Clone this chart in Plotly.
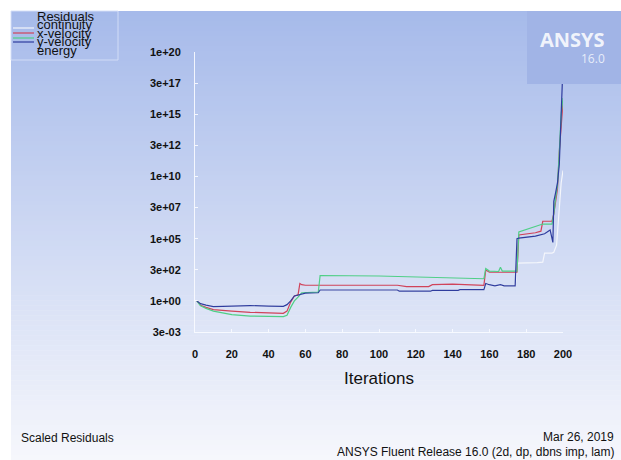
import plotly.graph_objects as go

# ---- residual histories (iteration, scaled residual) ----
continuity_it = [1, 3, 6, 10, 20, 30, 40, 48, 50, 52, 54, 56, 58, 67, 68, 110, 111, 128, 129, 157, 158, 163, 174,
                 175.5, 176, 186, 189, 190, 194, 195, 196.5, 198, 199, 200]
continuity_res = [1.0, 0.6, 0.45, 0.35, 0.38, 0.42, 0.38, 0.36, 0.5, 1.0, 2.5, 3.0, 4.0, 4.5, 7.5, 7.5, 6.0, 6.0,
                  7.0, 8.0, 25, 16, 16, 1.1e3, 1.1e3, 1.2e3, 1.3e3, 7e3, 7e3, 8e3, 3e4, 1e8, 3e9, 3e10]

xvel_it = [1, 3, 6, 10, 20, 30, 48, 50, 52, 54, 56, 57, 58, 60, 110, 115, 127, 129, 140, 145, 157, 158, 160,
           175, 176, 185, 188, 189, 194, 195, 196, 197, 198, 199, 200]
xvel_res = [1.0, 0.45, 0.3, 0.2, 0.15, 0.12, 0.1, 0.15, 0.8, 2.5, 3.0, 25, 20, 18, 18, 14, 14, 20, 22, 20, 18,
            3e2, 2e2, 2e2, 2e5, 3e5, 4e5, 2.5e6, 2.5e6, 1e7, 1e8, 1e9, 1e12, 1e14, 1e16]

yvel_it = [1, 3, 6, 10, 20, 30, 48, 50, 52, 54, 56, 58, 67, 68, 100, 157, 158, 160, 165, 166, 167, 175,
           176, 188, 189, 194, 195, 196, 197, 198, 199, 200]
yvel_res = [1.0, 0.4, 0.25, 0.15, 0.08, 0.06, 0.055, 0.07, 0.3, 1.0, 2.0, 4.5, 5.0, 110, 100, 60, 400, 250,
            230, 500, 250, 250, 3.5e5, 1.3e6, 1.5e6, 1.5e6, 1e7, 2e8, 2e9, 1e12, 1e15, 2e16]

energy_it = [1, 3, 6, 10, 20, 30, 40, 48, 50, 52, 54, 56, 58, 60, 67, 68, 110, 111, 128, 129, 143, 144, 157,
             158, 160, 163, 166, 168, 174, 175, 176, 185, 190, 192, 193, 194.5, 195, 196, 197, 198, 199, 200]
energy_res = [1.0, 0.6, 0.45, 0.35, 0.38, 0.42, 0.38, 0.36, 0.5, 1.0, 2.5, 3.0, 4.0, 4.2, 4.5, 7.5, 7.5, 6.0,
              6.0, 7.0, 7.0, 8.0, 8.0, 25, 20, 16, 20, 16, 16, 1e5, 1.1e5, 1.6e5, 2.5e5, 4e5, 5e5, 5e4, 1e8,
              5e8, 3e9, 1e11, 1e15, 1e19]

series_names = ["continuity", "x-velocity", "y-velocity", "energy"]
series_colors = ["#f4f6fb", "#d0435a", "#4fcf86", "#2e3c9e"]

y_tick_exponents = [-2.5, 0, 2.5, 5, 7.5, 10, 12.5, 15, 17.5, 20]
y_tick_labels = ["3e-03", "1e+00", "3e+02", "1e+05", "3e+07", "1e+10", "3e+12", "1e+15", "3e+17", "1e+20"]
x_tick_values = [0, 20, 40, 60, 80, 100, 120, 140, 160, 180, 200]

# ---- page geometry (pixels) ----
W, H = 621, 460
L, R, T, B = 195, 563, 52, 332
PW, PH = R - L, B - T


def xp(px):
    return (px - L) / PW


def yp(py):
    return (B - py) / PH


fig = go.Figure()

data = [(continuity_it, continuity_res), (xvel_it, xvel_res), (yvel_it, yvel_res), (energy_it, energy_res)]
for (its, res), name, col in zip(data, series_names, series_colors):
    fig.add_trace(go.Scatter(x=its, y=res, mode="lines", name=name,
                             line=dict(color=col, width=1.2), showlegend=False))

shapes = []

# vertical background gradient of the graphics window
top_rgb = (166, 186, 234)
bot_rgb = (246, 247, 252)
y_start, y_end = 11, 460
n = 90
step = (y_end - y_start) / n
for i in range(n):
    t = (i + 0.5) / n
    c = tuple(round(a + (b - a) * t) for a, b in zip(top_rgb, bot_rgb))
    y0 = y_start + i * step
    shapes.append(dict(type="rect", xref="paper", yref="paper", layer="below",
                       x0=xp(11), x1=xp(621), y0=yp(y0 + step + 0.5), y1=yp(y0),
                       line=dict(width=0), fillcolor="rgb(%d,%d,%d)" % c))

# logo panel, drawn over the curves
shapes.append(dict(type="rect", xref="paper", yref="paper", layer="above",
                   x0=xp(527), x1=xp(621), y0=yp(84), y1=yp(11),
                   line=dict(width=0), fillcolor="rgb(161,180,230)"))

# legend frame and line samples
shapes.append(dict(type="rect", xref="paper", yref="paper", layer="above",
                   x0=xp(11), x1=xp(118), y0=yp(60), y1=yp(11),
                   line=dict(width=1, color="rgba(214,224,248,0.9)"), fillcolor="rgba(0,0,0,0)"))
sample_y = [28, 33, 38, 42]
for yy, col in zip(sample_y, series_colors):
    shapes.append(dict(type="line", xref="paper", yref="paper", layer="above",
                       x0=xp(13), x1=xp(34), y0=yp(yy), y1=yp(yy),
                       line=dict(color=col, width=1.2)))

annotations = []
legend_rows = ["Residuals"] + series_names
legend_y = [16, 25, 33, 42, 50]
for txt, yy in zip(legend_rows, legend_y):
    annotations.append(dict(text=txt, xref="paper", yref="paper", x=xp(35), y=yp(yy),
                            xanchor="left", yanchor="middle", showarrow=False,
                            font=dict(family="Liberation Sans, Arial", size=13, color="#111111")))

annotations += [
    dict(text="<b>ANSYS</b>", xref="paper", yref="paper", x=xp(607), y=yp(40), xanchor="right",
         yanchor="middle", showarrow=False,
         font=dict(family="Open Sans, DejaVu Sans", size=20, color="rgba(246,248,253,0.95)")),
    dict(text="16.0", xref="paper", yref="paper", x=xp(607), y=yp(58), xanchor="right",
         yanchor="middle", showarrow=False,
         font=dict(family="Open Sans, DejaVu Sans", size=12, color="rgba(236,241,251,0.95)")),
    dict(text="Iterations", xref="paper", yref="paper", x=xp(379), y=yp(378), xanchor="center",
         yanchor="middle", showarrow=False,
         font=dict(family="Liberation Sans, Arial", size=17, color="#111111")),
    dict(text="Scaled Residuals", xref="paper", yref="paper", x=xp(19), y=yp(438), xanchor="left",
         yanchor="middle", showarrow=False,
         font=dict(family="Liberation Sans, Arial", size=12, color="#111111")),
    dict(text="Mar 26, 2019", xref="paper", yref="paper", x=xp(616), y=yp(437), xanchor="right",
         yanchor="middle", showarrow=False,
         font=dict(family="Liberation Sans, Arial", size=12, color="#111111")),
    dict(text="ANSYS Fluent Release 16.0 (2d, dp, dbns imp, lam)", xref="paper", yref="paper",
         x=xp(616), y=yp(452), xanchor="right", yanchor="middle", showarrow=False,
         font=dict(family="Liberation Sans, Arial", size=12, color="#111111")),
]

fig.update_layout(
    width=W, height=H,
    margin=dict(l=L, r=W - R, t=T, b=H - B, pad=0),
    paper_bgcolor="white", plot_bgcolor="rgba(0,0,0,0)",
    shapes=shapes, annotations=annotations, showlegend=False,
    xaxis=dict(range=[0, 200], tickvals=x_tick_values, showgrid=False, zeroline=False,
               showline=True, linecolor="rgba(250,251,255,0.9)", linewidth=1,
               ticks="inside", ticklen=3, tickcolor="rgba(250,251,255,0.9)",
               ticklabelstandoff=12,
               tickfont=dict(family="Liberation Sans, Arial", size=11, color="#111111", weight="bold")),
    yaxis=dict(type="log", range=[-2.5, 20], tickvals=[10.0 ** e for e in y_tick_exponents],
               ticktext=y_tick_labels, showgrid=False, zeroline=False,
               showline=True, linecolor="rgba(250,251,255,0.9)", linewidth=1,
               ticks="inside", ticklen=3, tickcolor="rgba(250,251,255,0.9)",
               ticklabelstandoff=11,
               tickfont=dict(family="Liberation Sans, Arial", size=11, color="#111111", weight="bold")),
)

fig.write_html("out.html")
